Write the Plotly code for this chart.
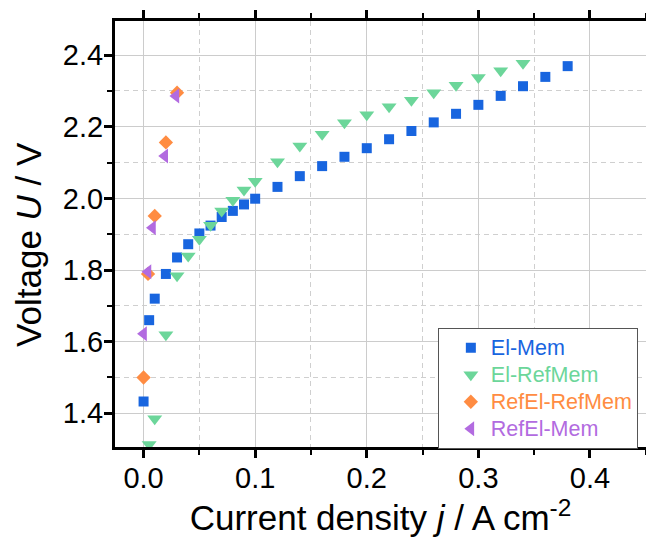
import plotly.graph_objects as go

# ---- data ----
el_mem_j = [0.0, 0.005, 0.01, 0.02, 0.03, 0.04, 0.05, 0.06, 0.07, 0.08, 0.09, 0.10,
            0.12, 0.14, 0.16, 0.18, 0.20, 0.22, 0.24, 0.26, 0.28, 0.30, 0.32, 0.34, 0.36, 0.38]
el_mem_u = [1.433, 1.660, 1.720, 1.789, 1.835, 1.872, 1.902, 1.924, 1.948, 1.965, 1.983, 1.999,
            2.032, 2.062, 2.090, 2.116, 2.140, 2.165, 2.188, 2.212, 2.236, 2.261, 2.286, 2.313, 2.339, 2.369]

el_refmem_j = [0.005, 0.01, 0.02, 0.03, 0.04, 0.05, 0.06, 0.07, 0.08, 0.09, 0.10,
               0.12, 0.14, 0.16, 0.18, 0.20, 0.22, 0.24, 0.26, 0.28, 0.30, 0.32, 0.34]
el_refmem_u = [1.313, 1.385, 1.619, 1.784, 1.839, 1.886, 1.925, 1.965, 1.995, 2.023, 2.048,
               2.102, 2.146, 2.179, 2.211, 2.233, 2.256, 2.274, 2.295, 2.316, 2.337, 2.356, 2.377]

refel_refmem_j = [0.0, 0.004, 0.01, 0.02, 0.03]
refel_refmem_u = [1.500, 1.789, 1.951, 2.156, 2.295]

refel_mem_j = [0.0, 0.004, 0.008, 0.019, 0.029]
refel_mem_u = [1.622, 1.795, 1.918, 2.118, 2.286]

series_names = ["El-Mem", "El-RefMem", "RefEl-RefMem", "RefEl-Mem"]
colors = ["#1865DF", "#6CD69A", "#FF8C42", "#B26BE0"]
symbols = ["square", "triangle-down", "diamond", "triangle-left"]
sizes = [10, 13, 11, 13]

x_title = "Current density <i>j</i> / A cm<sup>-2</sup>"
y_title = "Voltage <i>U</i> / V"

FONT = "Liberation Sans, Arial, sans-serif"

fig = go.Figure()
for name, xs, ys, c, s, sz in zip(
        series_names,
        [el_mem_j, el_refmem_j, refel_refmem_j, refel_mem_j],
        [el_mem_u, el_refmem_u, refel_refmem_u, refel_mem_u],
        colors, symbols, sizes):
    fig.add_trace(go.Scatter(
        x=xs, y=ys, mode="markers",
        name=f"<span style='color:{c};font-size:21.5px'>{name}</span>",
        marker=dict(symbol=s, color=c, size=sz, line=dict(width=0)),
    ))

axis_common = dict(
    showline=True, linecolor="black", linewidth=3, mirror="ticks",
    ticks="outside", ticklen=8, tickwidth=3, tickcolor="black",
    showgrid=True, gridcolor="#cccccc", gridwidth=1.2,
    zeroline=False, automargin=False,
    tickfont=dict(family=FONT, size=29, color="black"),
    ticklabelstandoff=-5,
)

fig.update_xaxes(
    range=[-0.0256, 0.4502], dtick=0.1, tick0=0, tickformat=".1f",
    minor=dict(dtick=0.05, tick0=0, ticks="outside", ticklen=5, tickwidth=2, tickcolor="black",
               showgrid=True, gridcolor="#cfcfcf", griddash="5px,4px", gridwidth=1.2),
    title=dict(text=x_title, font=dict(family=FONT, size=35, color="black"), standoff=13),
    **axis_common,
)
fig.update_yaxes(
    range=[1.306, 2.495], dtick=0.2, tick0=0, tickformat=".1f",
    minor=dict(dtick=0.1, tick0=0, ticks="outside", ticklen=5, tickwidth=2, tickcolor="black",
               showgrid=True, gridcolor="#cfcfcf", griddash="5px,4px", gridwidth=1.2),
    **axis_common,
)

fig.add_annotation(
    text=y_title, textangle=-90, showarrow=False,
    xref="paper", yref="paper", x=-0.164, y=0.4765,
    xanchor="center", yanchor="middle",
    font=dict(family=FONT, size=35, color="black"),
)

fig.update_layout(
    width=646, height=539,
    margin=dict(l=115, r=0, t=21, b=92),
    plot_bgcolor="white", paper_bgcolor="white",
    showlegend=True,
    legend=dict(
        x=0.608, y=0.279, xanchor="left", yanchor="top",
        bgcolor="white", bordercolor="#555555", borderwidth=1,
        font=dict(family=FONT, size=18.5),
        indentation=12,
    ),
)

# remove the default 8px page margin so the 646x539 figure fills the window exactly
fig.write_html("out.html",
               config={"displayModeBar": False},
               post_script="document.body.style.margin='0px';document.body.style.overflow='hidden';")
